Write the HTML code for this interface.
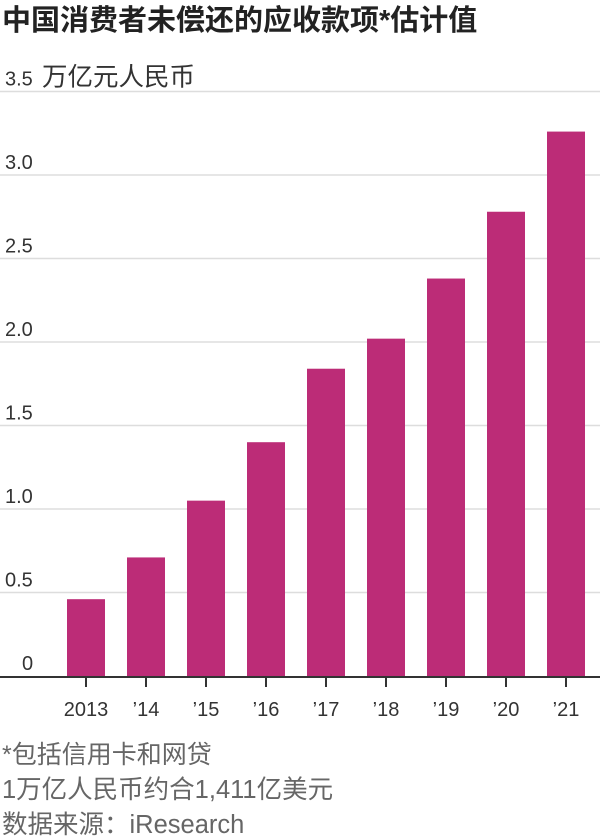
<!DOCTYPE html>
<html><head><meta charset="utf-8"><style>
body{margin:0;background:#fff;}
svg{display:block;font-family:"Liberation Sans","Noto Sans CJK SC",sans-serif;}
</style></head><body>
<svg id="chart" width="600" height="840">
<text x="2" y="30" font-size="29" font-weight="bold" fill="#222">中国消费者未偿还的应收款项*估计值</text>
<g id="grid"></g>
<g id="bars"></g>
<g id="xaxis"></g>
<text x="2" y="763" font-size="25" fill="#666">*包括信用卡和网贷</text>
<text x="2" y="798" font-size="25.5" fill="#666">1万亿人民币约合1,411亿美元</text>
<text x="2" y="833" font-size="25.5" fill="#666">数据来源：iResearch</text>
</svg>
<script>
const categories=["2013","’14","’15","’16","’17","’18","’19","’20","’21"];
const values=[0.46,0.71,1.05,1.40,1.84,2.02,2.38,2.78,3.26];
const yTicks=[0,0.5,1.0,1.5,2.0,2.5,3.0,3.5];
const yTickLabels=["0","0.5","1.0","1.5","2.0","2.5","3.0","3.5"];
const NS="http://www.w3.org/2000/svg";
const y0=676,pxPerUnit=167;
function y(v){return y0-v*pxPerUnit;}
function x(i){return 86+i*60;}
function mk(tag,attrs,parent){const e=document.createElementNS(NS,tag);for(const k in attrs)e.setAttribute(k,attrs[k]);parent.appendChild(e);return e;}
const grid=document.getElementById('grid'),bars=document.getElementById('bars'),xa=document.getElementById('xaxis');
yTicks.forEach((t,i)=>{
  if(t>0){const l=mk('line',{x1:0,x2:600,y1:y(t),y2:y(t),stroke:'#ddd','stroke-width':1.5},grid);
  
  }
  const tx=mk('text',{x:t===0?22:5,y:y(t)-6,'font-size':20,fill:'#333'},grid);
  tx.textContent=yTickLabels[i];
  
  
  if(i===yTicks.length-1){const u=mk('text',{x:42,y:y(t)-6,'font-size':25.5,fill:'#333'},grid);u.textContent='万亿元人民币';
  
  }
});
values.forEach((v,i)=>{
  const r=mk('rect',{x:x(i)-19,y:y(v),width:38,height:y0-y(v),fill:'#bc2c77'},bars);
  
  
});
const base=mk('line',{x1:0,x2:600,y1:y0+1,y2:y0+1,stroke:'#333','stroke-width':2},xa);


categories.forEach((c,i)=>{
  const tk=mk('line',{x1:x(i),x2:x(i),y1:y0+1,y2:y0+11,stroke:'#333','stroke-width':2},xa);
  
  
  const t=mk('text',{x:x(i),y:y0+40,'font-size':20,fill:'#333','text-anchor':'middle'},xa);
  t.textContent=c;
  
  
});
</script>
</body></html>
